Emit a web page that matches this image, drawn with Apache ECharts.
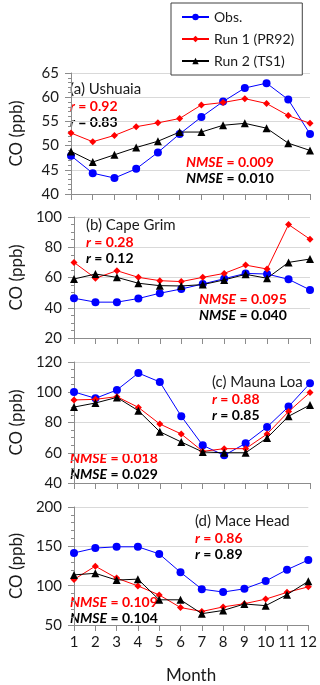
<!DOCTYPE html>
<html>
<head>
<meta charset="utf-8">
<script src="https://cdn.jsdelivr.net/npm/echarts@6/dist/echarts.min.js"></script>
<style>
  html, body { margin: 0; padding: 0; background: #fff; }
  #chart { width: 320px; height: 685px; }
</style>
</head>
<body>
<div id="chart"></div>
<script>
const months = ['1', '2', '3', '4', '5', '6', '7', '8', '9', '10', '11', '12'];

// (a) Ushuaia
const obsUshuaia = [47.9, 44.3, 43.3, 45.2, 48.6, 52.4, 55.9, 59.1, 61.9, 62.9, 59.5, 52.4];
const run1Ushuaia = [52.6, 50.8, 52.1, 53.9, 54.7, 55.6, 58.4, 58.9, 59.7, 58.7, 56.2, 54.6];
const run2Ushuaia = [48.8, 46.6, 48.1, 49.6, 50.9, 52.8, 52.8, 54.2, 54.6, 53.6, 50.5, 49.0];

// (b) Cape Grim
const obsCapeGrim = [46.3, 43.7, 43.7, 46.1, 49.6, 52.4, 55.7, 59.2, 62.7, 62.3, 58.8, 51.8];
const run1CapeGrim = [70.0, 59.5, 64.5, 60.1, 57.9, 57.3, 60.1, 62.7, 68.2, 65.6, 95.0, 85.3];
const run2CapeGrim = [59.0, 62.3, 60.1, 56.2, 54.6, 54.4, 55.3, 58.4, 62.1, 59.5, 70.0, 72.2];

// (c) Mauna Loa
const obsMaunaLoa = [100.2, 96.0, 101.5, 112.7, 106.8, 84.1, 64.9, 58.3, 66.2, 77.0, 90.5, 105.9];
const run1MaunaLoa = [94.9, 95.3, 97.1, 90.0, 79.0, 72.4, 60.9, 62.7, 62.7, 72.4, 87.2, 99.9];
const run2MaunaLoa = [90.2, 92.9, 96.6, 87.8, 73.9, 67.1, 60.5, 60.0, 60.0, 69.8, 84.1, 91.6];

// (d) Mace Head
const obsMaceHead = [141.6, 147.8, 149.4, 149.4, 140.4, 117.0, 95.6, 91.9, 96.0, 105.9, 120.3, 132.6];
const run1MaceHead = [107.9, 124.8, 109.6, 99.7, 88.2, 72.2, 67.2, 73.0, 77.1, 82.9, 91.5, 98.5];
const run2MaceHead = [113.7, 115.7, 107.1, 108.3, 82.0, 82.0, 64.4, 68.5, 76.7, 74.6, 88.6, 105.5];

const panelNames = ['(a) Ushuaia', '(b) Cape Grim', '(c) Mauna Loa', '(d) Mace Head'];
const rRun1 = ['0.92', '0.28', '0.88', '0.86'];
const rRun2 = ['0.83', '0.12', '0.85', '0.89'];
const nmseRun1 = ['0.009', '0.095', '0.018', '0.109'];
const nmseRun2 = ['0.010', '0.040', '0.029', '0.104'];

const yMin = [40, 20, 40, 50];
const yMax = [65, 100, 120, 200];
const yStep = [5, 20, 20, 50];
const yMinorSplit = [5, 4, 4, 5];

const panels = [
  [obsUshuaia, run1Ushuaia, run2Ushuaia],
  [obsCapeGrim, run1CapeGrim, run2CapeGrim],
  [obsMaunaLoa, run1MaunaLoa, run2MaunaLoa],
  [obsMaceHead, run1MaceHead, run2MaceHead]
];

const font = 'Lato, "Noto Sans", sans-serif';
const gridTops = [73, 217, 362, 507];
const gridHeight = 121;

// where the text of each panel sits: [titleX, titleY, nmseX, nmseY]
const textPos = [
  [70, 89, 186, 162],
  [86, 225, 199, 299],
  [212, 382, 70, 458],
  [195, 521, 70, 602]
];

let grids = [], xAxes = [], yAxes = [], series = [], graphics = [];

for (let i = 0; i < 4; i++) {
  grids.push({left: 65, right: 10, top: gridTops[i], height: gridHeight});
  xAxes.push({
    type: 'category',
    gridIndex: i,
    data: months,
    boundaryGap: false,
    axisLine: {lineStyle: {color: '#8c8c8c', width: 1}},
    axisTick: {show: true, interval: 0, inside: false, length: 6, lineStyle: {color: '#8c8c8c'}},
    axisLabel: {show: i == 3, interval: 0, fontFamily: font, fontSize: 15, color: '#1a1a1a', margin: 10},
    splitLine: {show: false},
    name: i == 3 ? 'Month' : '',
    nameLocation: 'middle',
    nameGap: 42,
    nameTextStyle: {fontFamily: font, fontSize: 17, color: '#1a1a1a'}
  });
  yAxes.push({
    type: 'value',
    gridIndex: i,
    min: yMin[i],
    max: yMax[i],
    interval: yStep[i],
    axisLine: {show: true, lineStyle: {color: '#8c8c8c', width: 1}},
    axisTick: {show: true, length: 6, lineStyle: {color: '#8c8c8c'}},
    minorTick: {show: true, splitNumber: yMinorSplit[i], length: 3, lineStyle: {color: '#8c8c8c'}},
    axisLabel: {fontFamily: font, fontSize: 15, color: '#1a1a1a', margin: 12},
    splitLine: {show: true, lineStyle: {color: '#d9d9d9', width: 1}},
    name: 'CO (ppb)',
    nameLocation: 'middle',
    nameGap: 46,
    nameTextStyle: {fontFamily: font, fontSize: 17, color: '#1a1a1a'}
  });

  let data = panels[i];
  series.push({
    name: 'Obs.', type: 'line', xAxisIndex: i, yAxisIndex: i, data: data[0],
    symbol: 'circle', symbolSize: 8, z: 2,
    itemStyle: {color: '#0000ff'}, lineStyle: {color: '#0000ff', width: 1}
  });
  series.push({
    name: 'Run 1 (PR92)', type: 'line', xAxisIndex: i, yAxisIndex: i, data: data[1],
    symbol: 'diamond', symbolSize: 7, z: 3,
    itemStyle: {color: '#ff0000'}, lineStyle: {color: '#ff0000', width: 1}
  });
  series.push({
    name: 'Run 2 (TS1)', type: 'line', xAxisIndex: i, yAxisIndex: i, data: data[2],
    symbol: 'triangle', symbolSize: 8, z: 4,
    itemStyle: {color: '#000000'}, lineStyle: {color: '#000000', width: 1}
  });

  let p = textPos[i];
  let rich = {
    i: {fontFamily: font, fontSize: 14, fontStyle: 'italic', fontWeight: 'bold'},
    b: {fontFamily: font, fontSize: 14, fontWeight: 'bold'}
  };
  graphics.push({type: 'text', x: p[0], y: p[1], style: {text: panelNames[i], font: '15px ' + font, fill: '#1a1a1a', verticalAlign: 'middle'}});
  graphics.push({type: 'text', x: p[0], y: p[1] + 17, style: {text: '{i|r}{b| = ' + rRun1[i] + '}', rich: rich, fill: '#ff0000', verticalAlign: 'middle'}});
  graphics.push({type: 'text', x: p[0], y: p[1] + 33, style: {text: '{i|r}{b| = ' + rRun2[i] + '}', rich: rich, fill: '#000000', verticalAlign: 'middle'}});
  graphics.push({type: 'text', x: p[2], y: p[3], style: {text: '{i|NMSE}{b| = ' + nmseRun1[i] + '}', rich: rich, fill: '#ff0000', verticalAlign: 'middle'}});
  graphics.push({type: 'text', x: p[2], y: p[3] + 16, style: {text: '{i|NMSE}{b| = ' + nmseRun2[i] + '}', rich: rich, fill: '#000000', verticalAlign: 'middle'}});
}

let myEcharts = echarts.init(document.getElementById('chart'));
let option = {
  animation: false,
  backgroundColor: '#fff',
  legend: {
    data: ['Obs.', 'Run 1 (PR92)', 'Run 2 (TS1)'],
    orient: 'vertical',
    left: 171,
    top: 3,
    padding: [7, 8, 7, 10],
    itemGap: 8,
    itemWidth: 27,
    itemHeight: 8,
    borderColor: '#404040',
    borderWidth: 1,
    backgroundColor: '#fff',
    textStyle: {fontFamily: font, fontSize: 14, color: '#1a1a1a'},
    z: 10
  },
  grid: grids,
  xAxis: xAxes,
  yAxis: yAxes,
  series: series,
  graphic: graphics
};
myEcharts.setOption(option);
</script>
</body>
</html>
